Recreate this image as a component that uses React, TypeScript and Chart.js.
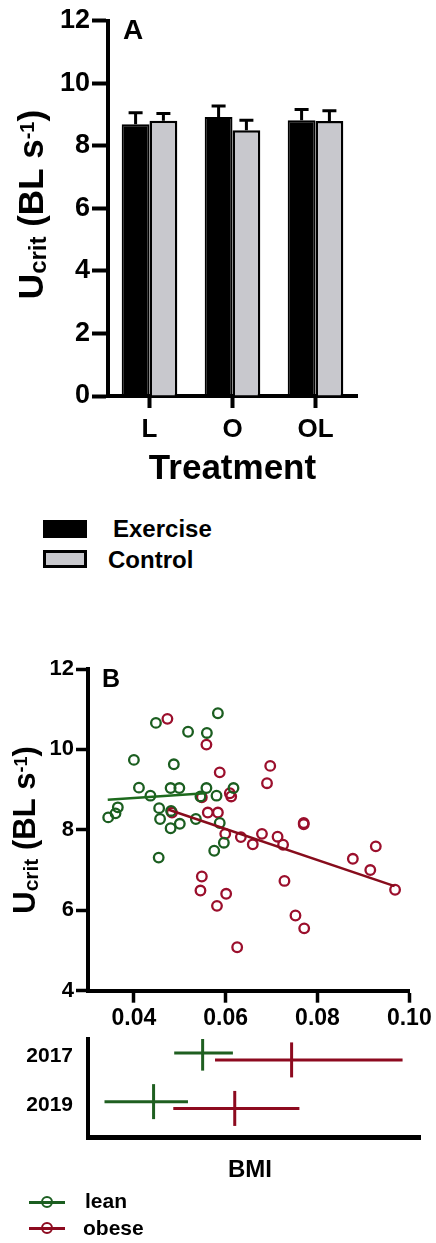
import React, { useEffect, useRef } from "react";
import { Chart, registerables } from "chart.js";

Chart.register(...registerables);

const FONT = '"Liberation Sans", Arial, Helvetica, sans-serif';
const GREEN = "#1b5e20";
const RED = "#9b0f2c";
const GREEN_FIT = "#1d6a1d";
const RED_FIT = "#870c1c";
const GREEN_C = "#1f5f20";
const RED_C = "#8d0a1f";

// ---------- Panel A ----------
const treatments = ["L", "O", "OL"];
const exerciseMean = [8.69, 8.92, 8.82];
const exerciseSem = [0.37, 0.35, 0.34];
const controlMean = [8.8, 8.5, 8.79];
const controlSem = [0.23, 0.32, 0.33];
const yTicksA = [0, 2, 4, 6, 8, 10, 12];

// ---------- Panel B ----------
const leanBmi = [
  0.0344, 0.036, 0.0365, 0.04, 0.0411, 0.0436, 0.0448, 0.0455, 0.0457, 0.0454,
  0.0481, 0.048, 0.048, 0.0487, 0.0499, 0.05, 0.0518, 0.0535, 0.0559, 0.0558,
  0.0545, 0.058, 0.0617, 0.0583, 0.0587, 0.0596, 0.0575,
];
const leanUcrit = [
  8.31, 8.41, 8.56, 9.74, 9.05, 8.85, 10.66, 8.54, 8.27, 7.31,
  8.47, 8.04, 9.04, 9.63, 9.04, 8.15, 10.44, 8.27, 10.41, 9.04,
  8.83, 8.85, 9.04, 10.9, 8.17, 7.68, 7.48,
];
const obeseBmi = [
  0.0473, 0.0558, 0.0697, 0.0587, 0.069, 0.0609, 0.0612, 0.0548, 0.0483, 0.0561,
  0.0583, 0.0599, 0.0633, 0.0659, 0.0679, 0.0713, 0.0725, 0.077, 0.077, 0.0877,
  0.0927, 0.0915, 0.0969, 0.0728, 0.0548, 0.0545, 0.0601, 0.0581, 0.0752, 0.0771,
  0.0625,
];
const obeseUcrit = [
  10.76, 10.12, 9.59, 9.43, 9.16, 8.91, 8.83, 8.81, 8.43, 8.43,
  8.43, 7.9, 7.82, 7.64, 7.9, 7.83, 7.63, 8.17, 8.14, 7.28,
  7.59, 7.0, 6.51, 6.73, 6.84, 6.49, 6.41, 6.11, 5.87, 5.55,
  5.08,
];
const leanFitBmi = [0.0343, 0.0555];
const leanFitUcrit = [8.75, 8.91];
const obeseFitBmi = [0.0476, 0.0968];
const obeseFitUcrit = [8.5, 6.6];
const xTicksB = [0.04, 0.06, 0.08, 0.1];
const yTicksB = [4, 6, 8, 10, 12];

// ---------- Panel B (BMI ranges per year) ----------
const years = ["2017", "2019"];
const leanLow = [0.0488, 0.0336];
const leanMid = [0.055, 0.0443];
const leanHigh = [0.0616, 0.0518];
const obeseLow = [0.0577, 0.0486];
const obeseMid = [0.0744, 0.062];
const obeseHigh = [0.0986, 0.0761];

type Part = { t: string; s: number; d: number };

function drawRichVertical(ctx: CanvasRenderingContext2D, centerY: number, baselineX: number, parts: Part[]) {
  ctx.save();
  const widths = parts.map((p) => {
    ctx.font = `bold ${p.s}px ${FONT}`;
    return ctx.measureText(p.t).width;
  });
  const total = widths.reduce((a, b) => a + b, 0);
  ctx.translate(baselineX, centerY);
  ctx.rotate(-Math.PI / 2);
  ctx.fillStyle = "#000";
  ctx.textAlign = "left";
  ctx.textBaseline = "alphabetic";
  let x = -total / 2;
  parts.forEach((p, i) => {
    ctx.font = `bold ${p.s}px ${FONT}`;
    ctx.fillText(p.t, x, p.d);
    x += widths[i];
  });
  ctx.restore();
}

const font = (size: number) => ({ family: FONT, size, weight: "bold" as const });

export default function App() {
  const refA = useRef<HTMLCanvasElement>(null);
  const refB = useRef<HTMLCanvasElement>(null);
  const refC = useRef<HTMLCanvasElement>(null);

  useEffect(() => {
    const charts: Chart[] = [];

    const errorBars = {
      id: "errorBars",
      afterDatasetsDraw(chart: any) {
        const ctx = chart.ctx;
        const y = chart.scales.y;
        [exerciseSem, controlSem].forEach((errs, di) => {
          const meta = chart.getDatasetMeta(di);
          meta.data.forEach((bar: any, i: number) => {
            const val = chart.data.datasets[di].data[i] as number;
            const top = y.getPixelForValue(val + errs[i]);
            ctx.save();
            ctx.strokeStyle = "#000";
            ctx.lineWidth = 3;
            ctx.beginPath();
            ctx.moveTo(bar.x, bar.y);
            ctx.lineTo(bar.x, top);
            ctx.moveTo(bar.x - 7, top);
            ctx.lineTo(bar.x + 7, top);
            ctx.stroke();
            ctx.restore();
          });
        });
      },
    };

    const decoA = {
      id: "decoA",
      afterDraw(chart: any) {
        const ctx = chart.ctx;
        const ca = chart.chartArea;
        ctx.save();
        ctx.fillStyle = "#000";
        ctx.font = `bold 28px ${FONT}`;
        ctx.textAlign = "left";
        ctx.textBaseline = "alphabetic";
        ctx.fillText("A", 123, 39);
        ctx.font = `bold 35px ${FONT}`;
        ctx.textAlign = "center";
        ctx.fillText("Treatment", (ca.left + ca.right) / 2, 479);
        ctx.restore();
        drawRichVertical(ctx, 204.5, 43, [
          { t: "U", s: 35, d: 0 },
          { t: "crit", s: 24, d: 3 },
          { t: " (BL s", s: 35, d: 0 },
          { t: "-1", s: 20, d: -9 },
          { t: ")", s: 35, d: 0 },
        ]);
      },
    };

    if (refA.current) {
      charts.push(
        new Chart(refA.current, {
          type: "bar",
          data: {
            labels: treatments,
            datasets: [
              { label: "Exercise", data: exerciseMean, backgroundColor: "#000000", borderColor: "#000000", borderWidth: 2 },
              { label: "Control", data: controlMean, backgroundColor: "#c8c8cd", borderColor: "#000000", borderWidth: 2.5 },
            ],
          },
          options: {
            responsive: false,
            animation: false,
            devicePixelRatio: 1,
            datasets: { bar: { categoryPercentage: 0.67, barPercentage: 1 } },
            layout: { autoPadding: false, padding: { top: 20.7, right: 79, bottom: 0, left: 0 } },
            plugins: { legend: { display: false }, tooltip: { enabled: false } },
            scales: {
              x: {
                type: "category",
                offset: true,
                grid: { display: true, offset: false, drawOnChartArea: false, tickLength: 12, tickWidth: 4, tickColor: "#000" },
                border: { display: true, width: 4, color: "#000" },
                ticks: { color: "#000", font: font(26), padding: 6, maxRotation: 0 },
                afterFit: (s: any) => {
                  s.height = 94;
                },
              },
              y: {
                type: "linear",
                min: 0,
                max: 12,
                afterBuildTicks: (s: any) => {
                  s.ticks = yTicksA.map((v) => ({ value: v }));
                },
                grid: { display: true, drawOnChartArea: false, tickLength: 16, tickWidth: 4, tickColor: "#000" },
                border: { display: true, width: 4, color: "#000" },
                ticks: { color: "#000", font: font(27), padding: 2 },
                afterFit: (s: any) => {
                  s.width = 108;
                },
              },
            },
          },
          plugins: [errorBars, decoA],
        } as any)
      );
    }

    const decoB = {
      id: "decoB",
      afterDraw(chart: any) {
        const ctx = chart.ctx;
        ctx.save();
        ctx.fillStyle = "#000";
        ctx.font = `bold 25px ${FONT}`;
        ctx.textAlign = "left";
        ctx.textBaseline = "alphabetic";
        ctx.fillText("B", 102, 47);
        ctx.restore();
        drawRichVertical(ctx, 190, 35, [
          { t: "U", s: 31, d: 0 },
          { t: "crit", s: 21, d: 3 },
          { t: " (BL s", s: 31, d: 0 },
          { t: "-1", s: 18, d: -8 },
          { t: ")", s: 31, d: 0 },
        ]);
      },
    };

    const pts = (xs: number[], ys: number[]) => xs.map((x, i) => ({ x, y: ys[i] }));

    if (refB.current) {
      charts.push(
        new Chart(refB.current, {
          type: "scatter",
          data: {
            datasets: [
              {
                label: "lean fit",
                data: pts(leanFitBmi, leanFitUcrit),
                showLine: true,
                borderColor: GREEN_FIT,
                borderWidth: 2.5,
                pointRadius: 0,
                order: 0,
              },
              {
                label: "obese fit",
                data: pts(obeseFitBmi, obeseFitUcrit),
                showLine: true,
                borderColor: RED_FIT,
                borderWidth: 2.5,
                pointRadius: 0,
                order: 0,
              },
              {
                label: "lean",
                data: pts(leanBmi, leanUcrit),
                pointRadius: 4.8,
                pointBorderWidth: 2.3,
                pointBorderColor: GREEN,
                pointBackgroundColor: "rgba(0,0,0,0)",
                borderColor: GREEN,
                order: 1,
              },
              {
                label: "obese",
                data: pts(obeseBmi, obeseUcrit),
                pointRadius: 4.8,
                pointBorderWidth: 2.3,
                pointBorderColor: RED,
                pointBackgroundColor: "rgba(0,0,0,0)",
                borderColor: RED,
                order: 2,
              },
            ],
          },
          options: {
            responsive: false,
            animation: false,
            devicePixelRatio: 1,
            layout: { autoPadding: false, padding: { top: 29, right: 26.7, bottom: 0, left: 0 } },
            plugins: { legend: { display: false }, tooltip: { enabled: false } },
            scales: {
              x: {
                type: "linear",
                min: 0.03,
                max: 0.1,
                afterBuildTicks: (s: any) => {
                  s.ticks = xTicksB.map((v) => ({ value: v }));
                },
                grid: { display: true, drawOnChartArea: false, tickLength: 12, tickWidth: 3.5, tickColor: "#000" },
                border: { display: true, width: 4, color: "#000" },
                ticks: {
                  color: "#000",
                  font: font(23),
                  padding: 2,
                  maxRotation: 0,
                  autoSkip: false,
                  callback: (v: any) => Number(v).toFixed(2),
                },
                afterFit: (s: any) => {
                  s.height = 44.3;
                },
              },
              y: {
                type: "linear",
                min: 4,
                max: 12,
                afterBuildTicks: (s: any) => {
                  s.ticks = yTicksB.map((v) => ({ value: v }));
                },
                grid: { display: true, drawOnChartArea: false, tickLength: 12, tickWidth: 3.5, tickColor: "#000" },
                border: { display: true, width: 4, color: "#000" },
                ticks: { color: "#000", font: font(22), padding: 2 },
                afterFit: (s: any) => {
                  s.width = 88;
                },
              },
            },
          },
          plugins: [decoB],
        } as any)
      );
    }

    // Panel C: horizontal ranges (low-high) with a vertical mark at the mean
    const LEAN_SHIFT = -0.07;
    const OBESE_SHIFT = 0.07;
    const rangeSets = (low: number[], high: number[], color: string, shift: number, name: string) =>
      years.map((yr, i) => ({
        label: `${name} ${yr}`,
        data: [
          { x: low[i], y: i + 1 + shift },
          { x: high[i], y: i + 1 + shift },
        ],
        showLine: true,
        borderColor: color,
        borderWidth: 3,
        pointRadius: 0,
        borderCapStyle: "butt",
      }));
    const meanSet = (mid: number[], color: string, shift: number, name: string) => ({
      label: `${name} mean`,
      data: mid.map((x, i) => ({ x, y: i + 1 + shift })),
      showLine: false,
      pointStyle: "line",
      rotation: 90,
      pointRadius: 17.5,
      pointBorderWidth: 3,
      pointBorderColor: color,
      borderColor: color,
    });

    const decoC = {
      id: "decoC",
      afterDraw(chart: any) {
        const ctx = chart.ctx;
        ctx.save();
        ctx.fillStyle = "#000";
        ctx.font = `bold 24px ${FONT}`;
        ctx.textAlign = "center";
        ctx.textBaseline = "alphabetic";
        ctx.fillText("BMI", 250, 151);
        ctx.restore();
      },
    };

    if (refC.current) {
      charts.push(
        new Chart(refC.current, {
          type: "scatter",
          data: {
            datasets: [
              ...rangeSets(leanLow, leanHigh, GREEN_C, LEAN_SHIFT, "lean"),
              meanSet(leanMid, GREEN_C, LEAN_SHIFT, "lean"),
              ...rangeSets(obeseLow, obeseHigh, RED_C, OBESE_SHIFT, "obese"),
              meanSet(obeseMid, RED_C, OBESE_SHIFT, "obese"),
            ],
          },
          options: {
            responsive: false,
            animation: false,
            devicePixelRatio: 1,
            layout: { autoPadding: false, padding: { top: 13, right: 16, bottom: 0, left: 0 } },
            plugins: { legend: { display: false }, tooltip: { enabled: false } },
            scales: {
              x: {
                type: "linear",
                min: 0.03,
                max: 0.1024,
                ticks: { display: false },
                grid: { display: false },
                border: { display: true, width: 5, color: "#000" },
                afterFit: (s: any) => {
                  s.height = 53;
                },
              },
              y: {
                type: "linear",
                min: 0.639,
                max: 2.659,
                reverse: true,
                afterBuildTicks: (s: any) => {
                  s.ticks = years.map((_, i) => ({ value: i + 1 }));
                },
                ticks: {
                  color: "#000",
                  font: font(21),
                  padding: 0,
                  callback: (v: any) => years[Math.round(Number(v)) - 1],
                },
                grid: {
                  display: true,
                  drawOnChartArea: false,
                  drawTicks: true,
                  tickLength: 15,
                  tickColor: "rgba(0,0,0,0)",
                },
                border: { display: true, width: 4, color: "#000" },
                afterFit: (s: any) => {
                  s.width = 88;
                },
              },
            },
          },
          plugins: [decoC],
        } as any)
      );
    }

    return () => charts.forEach((c) => c.destroy());
  }, []);

  const text = (size: number): React.CSSProperties => ({
    position: "absolute",
    fontFamily: FONT,
    fontWeight: "bold",
    fontSize: size,
    lineHeight: `${size}px`,
    color: "#000",
    whiteSpace: "nowrap",
  });

  return (
    <div style={{ position: "absolute", left: 0, top: 0, width: 436, height: 1243, overflow: "hidden", background: "#fff" }}>
      <canvas ref={refA} width={436} height={490} style={{ position: "absolute", left: 0, top: 0, width: 436, height: 490 }} />
      {/* Legend A */}
      <div style={{ position: "absolute", left: 43, top: 520, width: 44, height: 18, background: "#000" }} />
      <div style={{ ...text(24), left: 113, top: 517 }}>Exercise</div>
      <div
        style={{
          position: "absolute",
          left: 43,
          top: 550,
          width: 44,
          height: 18,
          boxSizing: "border-box",
          border: "3px solid #000",
          background: "#c8c8cd",
        }}
      />
      <div style={{ ...text(24), left: 108, top: 548 }}>Control</div>

      <canvas ref={refC} width={436} height={164} style={{ position: "absolute", left: 0, top: 1026, width: 436, height: 164 }} />
      <canvas ref={refB} width={436} height={395} style={{ position: "absolute", left: 0, top: 640, width: 436, height: 395 }} />

      {/* Legend B */}
      <div style={{ position: "absolute", left: 29, top: 1200.5, width: 36, height: 3, background: GREEN }} />
      <div
        style={{
          position: "absolute",
          left: 41,
          top: 1196,
          width: 12,
          height: 12,
          boxSizing: "border-box",
          border: `2.5px solid ${GREEN}`,
          borderRadius: "50%",
        }}
      />
      <div style={{ ...text(21), left: 85, top: 1190 }}>lean</div>
      <div style={{ position: "absolute", left: 29, top: 1226.5, width: 36, height: 3, background: RED_C }} />
      <div
        style={{
          position: "absolute",
          left: 41,
          top: 1222,
          width: 12,
          height: 12,
          boxSizing: "border-box",
          border: `2.5px solid ${RED_C}`,
          borderRadius: "50%",
        }}
      />
      <div style={{ ...text(21), left: 83, top: 1217 }}>obese</div>
    </div>
  );
}
